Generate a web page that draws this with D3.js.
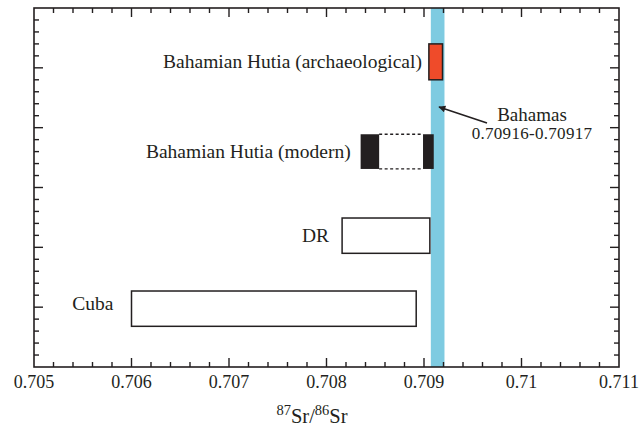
<!DOCTYPE html>
<html><head><meta charset="utf-8">
<script src="https://cdn.jsdelivr.net/npm/d3@7"></script>
<style>body{margin:0;background:#fff;} svg{display:block;} text{font-family:"Liberation Serif","Times New Roman",serif;fill:#231f20;}</style>
</head><body>
<svg id="c" width="640" height="436"></svg>
<script>
// ---- data ----
const categories = ["Cuba", "DR", "Bahamian Hutia (modern)", "Bahamian Hutia (archaeological)"];
const xMin  = [0.70600, 0.70816, 0.70835, 0.70905];
const xMax  = [0.70892, 0.70906, 0.70910, 0.70919];
const yLow  = [0.68, 1.90, 3.31, 4.80];
const yHigh = [1.27, 2.49, 3.89, 5.40];
const modernSolid = [[0.70835, 0.70854], [0.70899, 0.70910]];
const bahamasBand = [0.70907, 0.70921];
const bahamasLabel = ["Bahamas", "0.70916-0.70917"];
const xTicks = [0.705, 0.706, 0.707, 0.708, 0.709, 0.71, 0.711];
const xTickLabels = ["0.705", "0.706", "0.707", "0.708", "0.709", "0.71", "0.711"];

// ---- layout ----
const W = 640, H = 436;
const m = {l: 34, r: 21, t: 8, b: 69};
const svg = d3.select("#c");
const x = d3.scaleLinear().domain([0.705, 0.711]).range([m.l, W - m.r]);
const y = d3.scaleLinear().domain([0, 6]).range([H - m.b, m.t]);
const ink = "#231f20";
const labelGap = [18, 13, 10, 7];
const labelDy = [-5, 0, 0, 0];

// band
svg.append("rect")
  .attr("x", x(bahamasBand[0])).attr("width", x(bahamasBand[1]) - x(bahamasBand[0]))
  .attr("y", y(6)).attr("height", y(0) - y(6))
  .attr("fill", "#7ecbe1");

// boxes
categories.forEach((c, i) => {
  const x0 = x(xMin[i]), x1 = x(xMax[i]), y0 = y(yHigh[i]), y1 = y(yLow[i]);
  if (i === 2) {
    svg.append("line").attr("x1", x(modernSolid[0][1])).attr("x2", x(modernSolid[1][0]))
      .attr("y1", y0).attr("y2", y0).attr("stroke", ink).attr("stroke-width", 1.3).attr("stroke-dasharray", "3,2.5");
    svg.append("line").attr("x1", x(modernSolid[0][1])).attr("x2", x(modernSolid[1][0]))
      .attr("y1", y1).attr("y2", y1).attr("stroke", ink).attr("stroke-width", 1.3).attr("stroke-dasharray", "3,2.5");
    modernSolid.forEach(s => {
      svg.append("rect").attr("x", x(s[0])).attr("width", x(s[1]) - x(s[0]))
        .attr("y", y0).attr("height", y1 - y0).attr("fill", ink);
    });
  } else {
    svg.append("rect").attr("x", x0).attr("width", x1 - x0).attr("y", y0).attr("height", y1 - y0)
      .attr("fill", i === 3 ? "#ef4b2a" : "#fff").attr("stroke", ink).attr("stroke-width", 1.5);
  }
  svg.append("text").attr("x", x0 - labelGap[i]).attr("y", (y0 + y1) / 2 + labelDy[i])
    .attr("dy", "0.33em").attr("text-anchor", "end").attr("font-size", 19.5).text(c);
});

// frame and ticks
svg.append("rect").attr("x", m.l).attr("y", m.t).attr("width", W - m.r - m.l).attr("height", H - m.b - m.t)
  .attr("fill", "none").attr("stroke", ink).attr("stroke-width", 1.6);

const xMinor = d3.range(0, 31).map(k => 0.705 + k * 0.0002);
const yMinor = d3.range(0, 31).map(k => k * 0.2);
const isMajor = (k) => k % 5 === 0;
xMinor.forEach((v, k) => {
  if (k === 0 || k === 30) return;
  const L = isMajor(k) ? 9 : 5;
  svg.append("line").attr("x1", x(v)).attr("x2", x(v)).attr("y1", y(0)).attr("y2", y(0) - L).attr("stroke", ink).attr("stroke-width", 1.4);
  svg.append("line").attr("x1", x(v)).attr("x2", x(v)).attr("y1", y(6)).attr("y2", y(6) + L).attr("stroke", ink).attr("stroke-width", 1.4);
});
yMinor.forEach((v, k) => {
  if (k === 0 || k === 30) return;
  const L = isMajor(k) ? 9 : 5;
  svg.append("line").attr("x1", x(0.705)).attr("x2", x(0.705) + L).attr("y1", y(v)).attr("y2", y(v)).attr("stroke", ink).attr("stroke-width", 1.4);
  svg.append("line").attr("x1", x(0.711)).attr("x2", x(0.711) - L).attr("y1", y(v)).attr("y2", y(v)).attr("stroke", ink).attr("stroke-width", 1.4);
});

// tick labels
svg.selectAll("text.xt").data(xTicks).enter().append("text").attr("class", "xt")
  .attr("x", d => x(d)).attr("y", y(0) + 21).attr("text-anchor", "middle").attr("font-size", 18)
  .text((d, i) => xTickLabels[i]);

// axis title
const t = svg.append("text").attr("x", 312).attr("y", 423).attr("text-anchor", "middle").attr("font-size", 20.5);
t.append("tspan").attr("font-size", 14.5).attr("dy", -8).text("87");
t.append("tspan").attr("dy", 8).text("Sr/");
t.append("tspan").attr("font-size", 14.5).attr("dy", -8).text("86");
t.append("tspan").attr("dy", 8).text("Sr");

// annotation
svg.append("defs").append("marker").attr("id", "ah").attr("viewBox", "0 0 10 10").attr("refX", 9).attr("refY", 5)
  .attr("markerWidth", 9).attr("markerHeight", 7).attr("orient", "auto").attr("markerUnits", "userSpaceOnUse")
  .append("path").attr("d", "M0,0 L10,5 L0,10 z").attr("fill", ink);
svg.append("line").attr("x1", 487).attr("y1", 123).attr("x2", 439).attr("y2", 107)
  .attr("stroke", ink).attr("stroke-width", 1.6).attr("marker-end", "url(#ah)");
svg.append("text").attr("x", 532).attr("y", 120.5).attr("text-anchor", "middle").attr("font-size", 19).text(bahamasLabel[0]);
svg.append("text").attr("x", 532).attr("y", 138.5).attr("text-anchor", "middle").attr("font-size", 17).attr("letter-spacing", 0.3).text(bahamasLabel[1]);
</script>
</body></html>
